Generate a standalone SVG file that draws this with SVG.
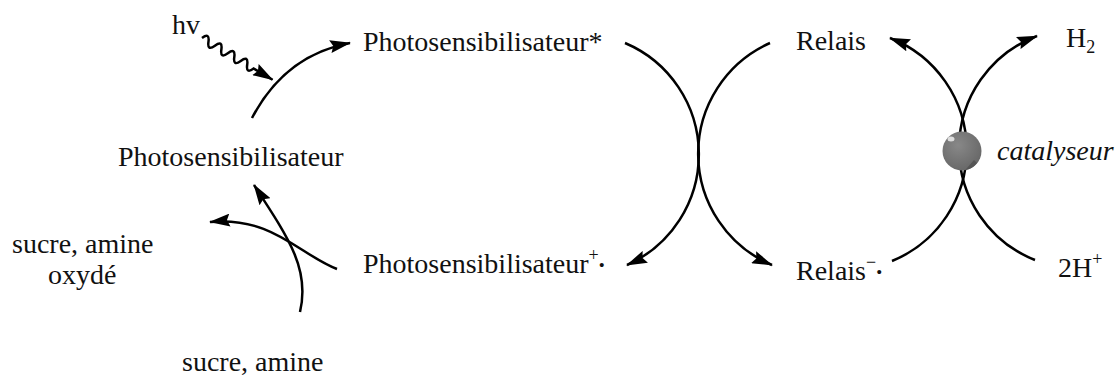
<svg xmlns="http://www.w3.org/2000/svg" width="1120" height="378" viewBox="0 0 1120 378">
<defs>
<style>
.lbl{font-family:"Liberation Serif","Times New Roman",serif;font-size:28px;fill:#111}
.it{font-style:italic}
.ln{fill:none;stroke:#000;stroke-width:2.5}
.arr{marker-end:url(#ah)}
</style>
<marker id="ah" markerUnits="userSpaceOnUse" viewBox="0 0 21 13" refX="20" refY="6.5" markerWidth="21" markerHeight="13" orient="auto">
<path d="M0,0 L21,6.5 L0,13 L3,6.5 Z" fill="#000"/>
</marker>
<radialGradient id="sph" cx="0.4" cy="0.35" r="0.7">
<stop offset="0" stop-color="#888"/>
<stop offset="1" stop-color="#666"/>
</radialGradient>
</defs>
<rect width="1120" height="378" fill="#fff"/>

<g id="connectors">
<path class="ln arr" transform="translate(202,38) rotate(30.6)" d="M0,0 q3.75,-9 7.5,0 t7.5,0 t7.5,0 t7.5,0 t7.5,0 t7.5,0 t7.5,0 t7.5,0 L82,0"/>
<path class="ln arr" d="M252,118 Q285,55 350,43"/>
<path class="ln arr" d="M300,312 C310,270 290,240 254,185"/>
<path class="ln arr" d="M337,269 C300,255 272,216 210,222"/>
<path class="ln arr" d="M625,43 A121,121 0 0 1 627,265"/>
<path class="ln arr" d="M770,43 A121,121 0 0 0 772,265"/>
<path class="ln arr" d="M892,261 A120,120 0 0 0 890,38"/>
<path class="ln arr" d="M1035,260 A120,120 0 0 1 1037,36"/>
</g>

<g id="catalyst">
<circle cx="962" cy="151" r="19.5" fill="url(#sph)"/>
<path d="M977,163 A19.5,19.5 0 0 1 965,170.3 L974,160 Z" fill="#555"/>
<ellipse cx="951" cy="139" rx="3.5" ry="2.5" fill="#ddd"/>
</g>

<g id="n-hv"><text class="lbl" x="172" y="34" font-size="27">hv</text></g>
<g id="n-ps-star"><text class="lbl" x="363" y="51">Photosensibilisateur*</text></g>
<g id="n-ps"><text class="lbl" x="118" y="166">Photosensibilisateur</text></g>
<g id="n-ps-plus"><text class="lbl" x="363" y="273">Photosensibilisateur<tspan font-size="18" dy="-12">+</tspan><tspan font-size="17" dy="10">•</tspan></text></g>
<g id="n-sucre-ox"><text class="lbl" x="12" y="253">sucre, amine</text><text class="lbl" x="48" y="284">oxydé</text></g>
<g id="n-sucre"><text class="lbl" x="182" y="371">sucre, amine</text></g>
<g id="n-relais"><text class="lbl" x="796" y="50">Relais</text></g>
<g id="n-relais-minus"><text class="lbl" x="796" y="280">Relais<tspan font-size="18" dy="-12">−</tspan><tspan font-size="17" dy="10">•</tspan></text></g>
<g id="n-h2"><text class="lbl" x="1066" y="47">H<tspan font-size="18" dy="6">2</tspan></text></g>
<g id="n-2h"><text class="lbl" x="1058" y="277">2H<tspan font-size="18" dy="-12">+</tspan></text></g>
<g id="n-cat"><text class="lbl it" x="997" y="160">catalyseur</text></g>
</svg>
